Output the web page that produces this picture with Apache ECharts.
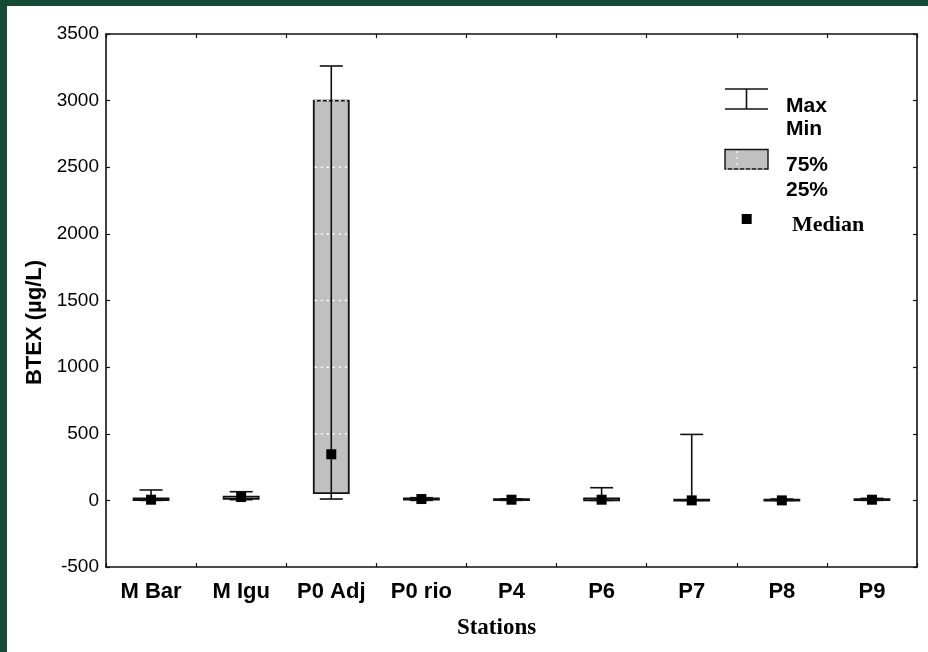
<!DOCTYPE html>
<html>
<head>
<meta charset="utf-8">
<script src="https://cdn.jsdelivr.net/npm/echarts@6/dist/echarts.min.js"></script>
<style>
html,body{margin:0;padding:0;width:928px;height:652px;background:#144b37;overflow:hidden;}
#chart{position:absolute;left:7px;top:6px;width:921px;height:646px;background:#ffffff;}
</style>
</head>
<body>
<div id="chart"></div>
<script>
const categories = ['M Bar', 'M Igu', 'P0 Adj', 'P0 rio', 'P4', 'P6', 'P7', 'P8', 'P9'];
const minVals = [0, 5, 10, 0, 0, 0, 0, 0, 0];
const q1Vals  = [2, 12, 55, 5, 3, 0, 0, 0, 2];
const medVals = [5, 25, 346, 10, 5, 5, 0, 0, 5];
const q3Vals  = [15, 28, 3000, 15, 10, 15, 5, 5, 10];
const maxVals = [78, 65, 3260, 20, 12, 95, 495, 10, 15];
const yMin = -500, yMax = 3500, yStep = 500;

const seriesData = categories.map((c, i) => [i, minVals[i], q1Vals[i], medVals[i], q3Vals[i], maxVals[i]]);

const INK = '#111111';
const SANS = '"Liberation Sans", Arial, sans-serif';
const SERIF = '"Liberation Serif", "Times New Roman", serif';

function renderItem(params, api) {
  const i = api.value(0);
  const vMin = api.value(1), vQ1 = api.value(2), vMed = api.value(3), vQ3 = api.value(4), vMax = api.value(5);
  const pMin = api.coord([i, vMin]);
  const pQ1 = api.coord([i, vQ1]);
  const pMed = api.coord([i, vMed]);
  const pQ3 = api.coord([i, vQ3]);
  const pMax = api.coord([i, vMax]);
  const x = pMin[0];
  const boxW = 35, capW = 23, sq = 10;
  const ch = [];
  ch.push({type: 'rect', shape: {x: x - boxW / 2, y: pQ3[1], width: boxW, height: Math.max(pQ1[1] - pQ3[1], 1)},
    style: {fill: '#c0c0c0', stroke: INK, lineWidth: 1.8}});
  for (let v = Math.ceil(vQ1 / yStep) * yStep; v <= vQ3; v += yStep) {
    if (v <= vQ1 || v === 0) continue;
    const y = api.coord([i, v])[1];
    ch.push({type: 'line', shape: {x1: x - boxW / 2 + 1, y1: y, x2: x + boxW / 2 - 1, y2: y},
      style: {stroke: '#ffffff', lineWidth: 1.5, lineDash: [2, 4]}});
  }
  ch.push({type: 'line', shape: {x1: x, y1: pMax[1], x2: x, y2: pMin[1]}, style: {stroke: INK, lineWidth: 1.6}});
  ch.push({type: 'line', shape: {x1: x - capW / 2, y1: pMax[1], x2: x + capW / 2, y2: pMax[1]}, style: {stroke: INK, lineWidth: 1.6}});
  ch.push({type: 'line', shape: {x1: x - capW / 2, y1: pMin[1], x2: x + capW / 2, y2: pMin[1]}, style: {stroke: INK, lineWidth: 1.6}});
  ch.push({type: 'rect', shape: {x: x - sq / 2, y: pMed[1] - sq / 2, width: sq, height: sq}, style: {fill: '#000000'}});
  return {type: 'group', children: ch};
}

const axisLine = {show: true, onZero: false, lineStyle: {color: INK, width: 1.6}};
const tick = {show: true, inside: true, length: 4, lineStyle: {color: INK, width: 1.2}};
const chart = echarts.init(document.getElementById('chart'));
chart.setOption({
  animation: false,
  backgroundColor: '#ffffff',
  grid: {left: 99, top: 28, right: 11, bottom: 85, containLabel: false},
  xAxis: [{
    type: 'category', data: categories, position: 'bottom',
    boundaryGap: true,
    axisLine: axisLine, axisTick: tick,
    axisLabel: {color: '#000', fontFamily: SANS, fontWeight: 'bold', fontSize: 22, margin: 14},
    splitLine: {show: false},
    name: 'Stations', nameLocation: 'middle', nameGap: 50,
    nameTextStyle: {color: '#000', fontFamily: SERIF, fontWeight: 'bold', fontSize: 23, padding: [0, 30, 0, 0]}
  }, {
    type: 'category', data: categories, position: 'top',
    boundaryGap: true,
    axisLine: axisLine, axisTick: tick,
    axisLabel: {show: false}, splitLine: {show: false}
  }],
  yAxis: [{
    type: 'value', min: yMin, max: yMax, interval: yStep, position: 'left',
    axisLine: axisLine, axisTick: tick,
    axisLabel: {color: '#000', fontFamily: SANS, fontSize: 19, margin: 7, formatter: v => String(v)},
    splitLine: {show: false},
    name: 'BTEX (µg/L)', nameLocation: 'middle', nameGap: 57, nameRotate: 90,
    nameTextStyle: {color: '#000', fontFamily: SANS, fontWeight: 'bold', fontSize: 22, padding: [0, 44, 0, 0]}
  }, {
    type: 'value', min: yMin, max: yMax, interval: yStep, position: 'right',
    axisLine: axisLine, axisTick: tick,
    axisLabel: {show: false}, splitLine: {show: false}
  }],
  series: [{
    type: 'custom', name: 'BTEX', xAxisIndex: 0, yAxisIndex: 0,
    renderItem: renderItem,
    encode: {x: 0, y: [1, 2, 3, 4, 5]},
    data: seriesData, z: 5
  }],
  graphic: [
    {type: 'line', shape: {x1: 718, y1: 83, x2: 761, y2: 83}, style: {stroke: INK, lineWidth: 1.6}},
    {type: 'line', shape: {x1: 718, y1: 103, x2: 761, y2: 103}, style: {stroke: INK, lineWidth: 1.6}},
    {type: 'line', shape: {x1: 739.5, y1: 83, x2: 739.5, y2: 103}, style: {stroke: INK, lineWidth: 1.6}},
    {type: 'text', left: 779, top: 90, style: {text: 'Max', fill: '#000', font: 'bold 21px ' + SANS}},
    {type: 'text', left: 779, top: 113, style: {text: 'Min', fill: '#000', font: 'bold 21px ' + SANS}},
    {type: 'rect', shape: {x: 718, y: 143.5, width: 43, height: 19.5}, style: {fill: '#c0c0c0', stroke: INK, lineWidth: 1.4}},
    {type: 'line', shape: {x1: 719, y1: 163, x2: 760, y2: 163}, style: {stroke: '#ffffff', lineWidth: 1.2, lineDash: [2, 4]}},
    {type: 'line', shape: {x1: 730, y1: 145, x2: 730, y2: 162}, style: {stroke: '#ffffff', lineWidth: 1.2, lineDash: [2, 4]}},
    {type: 'text', left: 779, top: 149, style: {text: '75%', fill: '#000', font: 'bold 21px ' + SANS}},
    {type: 'text', left: 779, top: 174, style: {text: '25%', fill: '#000', font: 'bold 21px ' + SANS}},
    {type: 'rect', shape: {x: 734.7, y: 208, width: 10, height: 10}, style: {fill: '#000'}},
    {type: 'text', left: 785, top: 208, style: {text: 'Median', fill: '#000', font: 'bold 22px ' + SERIF}}
  ]
});
</script>
</body>
</html>
